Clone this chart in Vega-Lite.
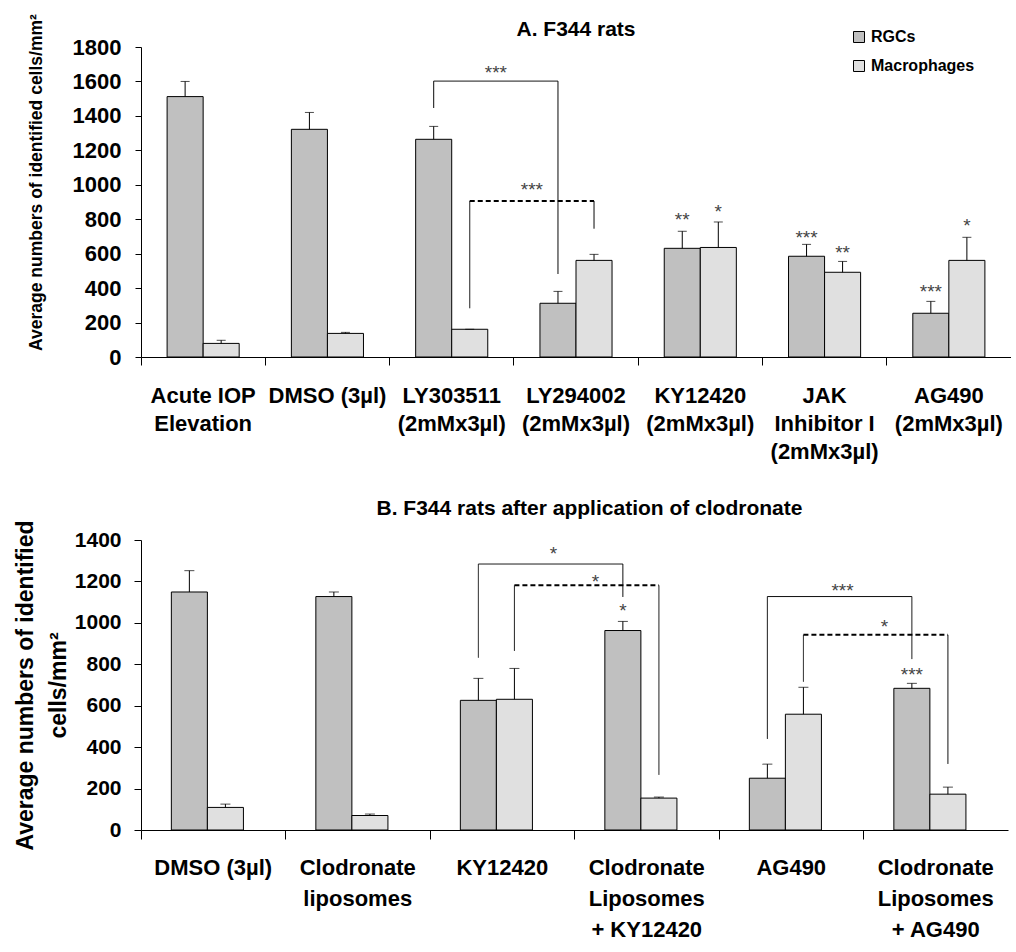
{
  "$schema": "https://vega.github.io/schema/vega-lite/v6.json",
  "background": "white",
  "padding": {"left": 14, "top": 13, "right": 0, "bottom": 0},
  "align": "none",
  "spacing": 35,
  "resolve": {"legend": {"fill": "independent"}},
  "config": {
    "font": "Liberation Sans",
    "view": {"stroke": null},
    "axis": {"domainColor": "black", "tickColor": "black", "labelColor": "black", "titleColor": "black", "grid": false, "labelFont": "Liberation Sans", "titleFont": "Liberation Sans", "labelOverlap": false},
    "axisY": {"labelOverlap": false},
    "axisQuantitative": {"labelOverlap": false},
    "axisYQuantitative": {"labelOverlap": false},
    "title": {"font": "Liberation Sans", "color": "black", "fontWeight": "bold"}
  },
  "datasets": {
    "barsA": [
      {"group": "Acute IOP|Elevation", "series": "RGCs", "value": 1512, "upper": 1600},
      {"group": "Acute IOP|Elevation", "series": "Macrophages", "value": 79, "upper": 97},
      {"group": "DMSO (3µl)", "series": "RGCs", "value": 1322, "upper": 1420},
      {"group": "DMSO (3µl)", "series": "Macrophages", "value": 137, "upper": 143},
      {"group": "LY303511|(2mMx3µl)", "series": "RGCs", "value": 1264, "upper": 1339},
      {"group": "LY303511|(2mMx3µl)", "series": "Macrophages", "value": 161, "upper": 161},
      {"group": "LY294002|(2mMx3µl)", "series": "RGCs", "value": 312, "upper": 381},
      {"group": "LY294002|(2mMx3µl)", "series": "Macrophages", "value": 561, "upper": 596},
      {"group": "KY12420|(2mMx3µl)", "series": "RGCs", "value": 631, "upper": 730},
      {"group": "KY12420|(2mMx3µl)", "series": "Macrophages", "value": 636, "upper": 784},
      {"group": "JAK|Inhibitor I|(2mMx3µl)", "series": "RGCs", "value": 585, "upper": 654},
      {"group": "JAK|Inhibitor I|(2mMx3µl)", "series": "Macrophages", "value": 492, "upper": 555},
      {"group": "AG490|(2mMx3µl)", "series": "RGCs", "value": 254, "upper": 323},
      {"group": "AG490|(2mMx3µl)", "series": "Macrophages", "value": 561, "upper": 695}
    ],
    "starsA": [
      {"group": "KY12420|(2mMx3µl)", "series": "RGCs", "label": "**", "y": 761},
      {"group": "KY12420|(2mMx3µl)", "series": "Macrophages", "label": "*", "y": 807},
      {"group": "JAK|Inhibitor I|(2mMx3µl)", "series": "RGCs", "label": "***", "y": 656},
      {"group": "JAK|Inhibitor I|(2mMx3µl)", "series": "Macrophages", "label": "**", "y": 569},
      {"group": "AG490|(2mMx3µl)", "series": "RGCs", "label": "***", "y": 343},
      {"group": "AG490|(2mMx3µl)", "series": "Macrophages", "label": "*", "y": 726}
    ],
    "bstarsA": [
      {"group": "LY294002|(2mMx3µl)", "series": "RGCs", "label": "***", "y": 1614},
      {"group": "LY294002|(2mMx3µl)", "series": "Macrophages", "label": "***", "y": 935}
    ],
    "bracketsA": [
      {"seg": "A1", "dash": "solid", "ord": 1, "group": "LY303511|(2mMx3µl)", "series": "RGCs", "y": 1446},
      {"seg": "A1", "dash": "solid", "ord": 2, "group": "LY303511|(2mMx3µl)", "series": "RGCs", "y": 1602},
      {"seg": "A1", "dash": "solid", "ord": 3, "group": "LY294002|(2mMx3µl)", "series": "RGCs", "y": 1602},
      {"seg": "A1", "dash": "solid", "ord": 4, "group": "LY294002|(2mMx3µl)", "series": "RGCs", "y": 482},
      {"seg": "A2a", "dash": "solid", "ord": 1, "group": "LY303511|(2mMx3µl)", "series": "Macrophages", "y": 283},
      {"seg": "A2a", "dash": "solid", "ord": 2, "group": "LY303511|(2mMx3µl)", "series": "Macrophages", "y": 906},
      {"seg": "A2b", "dash": "dashed", "ord": 1, "group": "LY303511|(2mMx3µl)", "series": "Macrophages", "y": 906},
      {"seg": "A2b", "dash": "dashed", "ord": 2, "group": "LY294002|(2mMx3µl)", "series": "Macrophages", "y": 906},
      {"seg": "A2c", "dash": "solid", "ord": 1, "group": "LY294002|(2mMx3µl)", "series": "Macrophages", "y": 906},
      {"seg": "A2c", "dash": "solid", "ord": 2, "group": "LY294002|(2mMx3µl)", "series": "Macrophages", "y": 745}
    ],
    "barsB": [
      {"group": "DMSO (3µl)", "series": "RGCs", "value": 1149, "upper": 1252},
      {"group": "DMSO (3µl)", "series": "Macrophages", "value": 109, "upper": 125},
      {"group": "Clodronate|liposomes", "series": "RGCs", "value": 1127, "upper": 1149},
      {"group": "Clodronate|liposomes", "series": "Macrophages", "value": 70, "upper": 77},
      {"group": "KY12420", "series": "RGCs", "value": 626, "upper": 732},
      {"group": "KY12420", "series": "Macrophages", "value": 631, "upper": 780},
      {"group": "Clodronate|Liposomes|+ KY12420", "series": "RGCs", "value": 963, "upper": 1007},
      {"group": "Clodronate|Liposomes|+ KY12420", "series": "Macrophages", "value": 154, "upper": 159},
      {"group": "AG490", "series": "RGCs", "value": 250, "upper": 318},
      {"group": "AG490", "series": "Macrophages", "value": 559, "upper": 689},
      {"group": "Clodronate|Liposomes|+ AG490", "series": "RGCs", "value": 684, "upper": 708},
      {"group": "Clodronate|Liposomes|+ AG490", "series": "Macrophages", "value": 173, "upper": 207}
    ],
    "starsB": [
      {"group": "Clodronate|Liposomes|+ KY12420", "series": "RGCs", "label": "*", "y": 1026},
      {"group": "Clodronate|Liposomes|+ AG490", "series": "RGCs", "label": "***", "y": 721}
    ],
    "bstarsB": [
      {"group": "Clodronate|Liposomes|+ KY12420", "series": "RGCs", "label": "*", "y": 1302},
      {"group": "Clodronate|Liposomes|+ KY12420", "series": "Macrophages", "label": "*", "y": 1166},
      {"group": "Clodronate|Liposomes|+ AG490", "series": "RGCs", "label": "***", "y": 1125},
      {"group": "Clodronate|Liposomes|+ AG490", "series": "Macrophages", "label": "*", "y": 949}
    ],
    "bracketsB": [
      {"seg": "B1", "dash": "solid", "ord": 1, "group": "KY12420", "series": "RGCs", "y": 832},
      {"seg": "B1", "dash": "solid", "ord": 2, "group": "KY12420", "series": "RGCs", "y": 1284},
      {"seg": "B1", "dash": "solid", "ord": 3, "group": "Clodronate|Liposomes|+ KY12420", "series": "RGCs", "y": 1284},
      {"seg": "B1", "dash": "solid", "ord": 4, "group": "Clodronate|Liposomes|+ KY12420", "series": "RGCs", "y": 1125},
      {"seg": "B2a", "dash": "solid", "ord": 1, "group": "KY12420", "series": "Macrophages", "y": 865},
      {"seg": "B2a", "dash": "solid", "ord": 2, "group": "KY12420", "series": "Macrophages", "y": 1181},
      {"seg": "B2b", "dash": "dashed", "ord": 1, "group": "KY12420", "series": "Macrophages", "y": 1181},
      {"seg": "B2b", "dash": "dashed", "ord": 2, "group": "Clodronate|Liposomes|+ KY12420", "series": "Macrophages", "y": 1181},
      {"seg": "B2c", "dash": "solid", "ord": 1, "group": "Clodronate|Liposomes|+ KY12420", "series": "Macrophages", "y": 1181},
      {"seg": "B2c", "dash": "solid", "ord": 2, "group": "Clodronate|Liposomes|+ KY12420", "series": "Macrophages", "y": 266},
      {"seg": "B3", "dash": "solid", "ord": 1, "group": "AG490", "series": "RGCs", "y": 440},
      {"seg": "B3", "dash": "solid", "ord": 2, "group": "AG490", "series": "RGCs", "y": 1127},
      {"seg": "B3", "dash": "solid", "ord": 3, "group": "Clodronate|Liposomes|+ AG490", "series": "RGCs", "y": 1127},
      {"seg": "B3", "dash": "solid", "ord": 4, "group": "Clodronate|Liposomes|+ AG490", "series": "RGCs", "y": 825},
      {"seg": "B4a", "dash": "solid", "ord": 1, "group": "AG490", "series": "Macrophages", "y": 716},
      {"seg": "B4a", "dash": "solid", "ord": 2, "group": "AG490", "series": "Macrophages", "y": 942},
      {"seg": "B4b", "dash": "dashed", "ord": 1, "group": "AG490", "series": "Macrophages", "y": 942},
      {"seg": "B4b", "dash": "dashed", "ord": 2, "group": "Clodronate|Liposomes|+ AG490", "series": "Macrophages", "y": 942},
      {"seg": "B4c", "dash": "solid", "ord": 1, "group": "Clodronate|Liposomes|+ AG490", "series": "Macrophages", "y": 942},
      {"seg": "B4c", "dash": "solid", "ord": 2, "group": "Clodronate|Liposomes|+ AG490", "series": "Macrophages", "y": 319}
    ]
  },
  "vconcat": [
    {
      "width": 870,
      "height": 310,
      "title": {"text": "A. F344 rats", "fontSize": 21, "offset": 7, "dy": 33, "frame": "group"},
      "encoding": {
        "x": {"field": "group", "type": "nominal",
          "scale": {"domain": ["Acute IOP|Elevation", "DMSO (3µl)", "LY303511|(2mMx3µl)", "LY294002|(2mMx3µl)", "KY12420|(2mMx3µl)", "JAK|Inhibitor I|(2mMx3µl)", "AG490|(2mMx3µl)"], "paddingInner": 0.42, "paddingOuter": 0.21},
          "axis": {"title": null, "labelExpr": "split(datum.value, '|')", "labelAngle": 0, "labelFontSize": 22, "labelFontWeight": "bold", "labelLineHeight": 28, "labelPadding": 20, "tickSize": 8, "bandPosition": -0.362, "labelOverlap": false, "labelLimit": 300}},
        "y": {"type": "quantitative", "scale": {"domain": [0, 1800], "nice": false},
          "axis": {"title": "Average numbers of identified cells/mm²", "values": [0, 200, 400, 600, 800, 1000, 1200, 1400, 1600, 1800], "format": "d", "labelOverlap": false, "labelFontSize": 22, "labelFontWeight": "bold", "tickSize": 6, "labelPadding": 14, "titleFontSize": 17.5, "titleFontWeight": "bold", "titlePadding": 27, "titleY": 135}}
      },
      "layer": [
        {
          "data": {"name": "barsA"},
          "mark": {"type": "bar", "stroke": "black", "strokeWidth": 1},
          "encoding": {
            "xOffset": {"field": "series", "type": "nominal", "scale": {"domain": ["RGCs", "Macrophages"]}},
            "y": {"field": "value", "type": "quantitative"},
            "fill": {"field": "series", "type": "nominal", "scale": {"domain": ["RGCs", "Macrophages"], "range": ["#c0c0c0", "#e0e0e0"]},
              "legend": {"title": null, "orient": "none", "legendX": 710, "legendY": -18, "symbolType": "square", "symbolSize": 121, "symbolStrokeColor": "black", "symbolStrokeWidth": 1, "labelFontSize": 16, "labelFontWeight": "bold", "labelColor": "black", "rowPadding": 13, "labelOffset": 4, "padding": 0}}
          }
        },
        {
          "data": {"name": "barsA"},
          "mark": {"type": "rule", "color": "black", "strokeWidth": 1},
          "encoding": {
            "xOffset": {"field": "series", "type": "nominal", "scale": {"domain": ["RGCs", "Macrophages"]}},
            "y": {"field": "value", "type": "quantitative"},
            "y2": {"field": "upper"}
          }
        },
        {
          "data": {"name": "barsA"},
          "mark": {"type": "tick", "orient": "horizontal", "color": "black", "size": 9, "thickness": 1},
          "encoding": {
            "xOffset": {"field": "series", "type": "nominal", "scale": {"domain": ["RGCs", "Macrophages"]}},
            "y": {"field": "upper", "type": "quantitative"}
          }
        },
        {
          "data": {"name": "starsA"},
          "mark": {"type": "text", "fontSize": 19, "color": "#444", "baseline": "alphabetic", "align": "center"},
          "encoding": {
            "xOffset": {"field": "series", "type": "nominal", "scale": {"domain": ["RGCs", "Macrophages"]}},
            "y": {"field": "y", "type": "quantitative"},
            "text": {"field": "label"}
          }
        },
        {
          "data": {"name": "bracketsA"},
          "mark": {"type": "line", "color": "black", "strokeCap": "butt"},
          "encoding": {
            "xOffset": {"field": "series", "type": "nominal", "scale": {"domain": ["RGCs", "Macrophages"]}},
            "y": {"field": "y", "type": "quantitative"},
            "detail": {"field": "seg"},
            "order": {"field": "ord", "type": "quantitative"},
            "strokeDash": {"field": "dash", "type": "nominal", "scale": {"domain": ["solid", "dashed"], "range": [[1, 0], [5, 3]]}, "legend": null},
            "strokeWidth": {"field": "dash", "type": "nominal", "scale": {"domain": ["solid", "dashed"], "range": [1, 2]}, "legend": null}
          }
        },
        {
          "data": {"name": "bstarsA"},
          "transform": [{"filter": "datum.series == 'RGCs'"}],
          "mark": {"type": "text", "fontSize": 19, "color": "#444", "baseline": "alphabetic", "align": "center"},
          "encoding": {
            "x": {"field": "group", "type": "nominal", "bandPosition": -0.612},
            "y": {"field": "y", "type": "quantitative"},
            "text": {"field": "label"}
          }
        },
        {
          "data": {"name": "bstarsA"},
          "transform": [{"filter": "datum.series == 'Macrophages'"}],
          "mark": {"type": "text", "fontSize": 19, "color": "#444", "baseline": "alphabetic", "align": "center"},
          "encoding": {
            "x": {"field": "group", "type": "nominal", "bandPosition": -0.112},
            "y": {"field": "y", "type": "quantitative"},
            "text": {"field": "label"}
          }
        }
      ]
    },
    {
      "width": 867,
      "height": 290,
      "title": {"text": "B. F344 rats after application of clodronate", "fontSize": 21, "offset": 1, "dx": 15, "frame": "group"},
      "encoding": {
        "x": {"field": "group", "type": "nominal",
          "scale": {"domain": ["DMSO (3µl)", "Clodronate|liposomes", "KY12420", "Clodronate|Liposomes|+ KY12420", "AG490", "Clodronate|Liposomes|+ AG490"], "paddingInner": 0.42, "paddingOuter": 0.21},
          "axis": {"title": null, "labelExpr": "split(datum.value, '|')", "labelAngle": 0, "labelFontSize": 22, "labelFontWeight": "bold", "labelLineHeight": 31, "labelPadding": 18, "tickSize": 9, "bandPosition": -0.362, "labelOverlap": false, "labelLimit": 300}},
        "y": {"type": "quantitative", "scale": {"domain": [0, 1400], "nice": false},
          "axis": {"title": ["Average numbers of identified", "cells/mm²"], "values": [0, 200, 400, 600, 800, 1000, 1200, 1400], "format": "d", "labelOverlap": false, "labelFontSize": 21, "labelFontWeight": "bold", "tickSize": 7, "labelPadding": 13, "titleFontSize": 23, "titleFontWeight": "bold", "titleLineHeight": 33, "titlePadding": 4}}
      },
      "layer": [
        {
          "data": {"name": "barsB"},
          "mark": {"type": "bar", "stroke": "black", "strokeWidth": 1},
          "encoding": {
            "xOffset": {"field": "series", "type": "nominal", "scale": {"domain": ["RGCs", "Macrophages"]}},
            "y": {"field": "value", "type": "quantitative"},
            "fill": {"field": "series", "type": "nominal", "scale": {"domain": ["RGCs", "Macrophages"], "range": ["#c0c0c0", "#e0e0e0"]}, "legend": null}
          }
        },
        {
          "data": {"name": "barsB"},
          "mark": {"type": "rule", "color": "black", "strokeWidth": 1},
          "encoding": {
            "xOffset": {"field": "series", "type": "nominal", "scale": {"domain": ["RGCs", "Macrophages"]}},
            "y": {"field": "value", "type": "quantitative"},
            "y2": {"field": "upper"}
          }
        },
        {
          "data": {"name": "barsB"},
          "mark": {"type": "tick", "orient": "horizontal", "color": "black", "size": 10, "thickness": 1},
          "encoding": {
            "xOffset": {"field": "series", "type": "nominal", "scale": {"domain": ["RGCs", "Macrophages"]}},
            "y": {"field": "upper", "type": "quantitative"}
          }
        },
        {
          "data": {"name": "starsB"},
          "mark": {"type": "text", "fontSize": 19, "color": "#444", "baseline": "alphabetic", "align": "center"},
          "encoding": {
            "xOffset": {"field": "series", "type": "nominal", "scale": {"domain": ["RGCs", "Macrophages"]}},
            "y": {"field": "y", "type": "quantitative"},
            "text": {"field": "label"}
          }
        },
        {
          "data": {"name": "bracketsB"},
          "mark": {"type": "line", "color": "black", "strokeCap": "butt"},
          "encoding": {
            "xOffset": {"field": "series", "type": "nominal", "scale": {"domain": ["RGCs", "Macrophages"]}},
            "y": {"field": "y", "type": "quantitative"},
            "detail": {"field": "seg"},
            "order": {"field": "ord", "type": "quantitative"},
            "strokeDash": {"field": "dash", "type": "nominal", "scale": {"domain": ["solid", "dashed"], "range": [[1, 0], [5, 3]]}, "legend": null},
            "strokeWidth": {"field": "dash", "type": "nominal", "scale": {"domain": ["solid", "dashed"], "range": [1, 2]}, "legend": null}
          }
        },
        {
          "data": {"name": "bstarsB"},
          "transform": [{"filter": "datum.series == 'RGCs'"}],
          "mark": {"type": "text", "fontSize": 19, "color": "#444", "baseline": "alphabetic", "align": "center"},
          "encoding": {
            "x": {"field": "group", "type": "nominal", "bandPosition": -0.612},
            "y": {"field": "y", "type": "quantitative"},
            "text": {"field": "label"}
          }
        },
        {
          "data": {"name": "bstarsB"},
          "transform": [{"filter": "datum.series == 'Macrophages'"}],
          "mark": {"type": "text", "fontSize": 19, "color": "#444", "baseline": "alphabetic", "align": "center"},
          "encoding": {
            "x": {"field": "group", "type": "nominal", "bandPosition": -0.112},
            "y": {"field": "y", "type": "quantitative"},
            "text": {"field": "label"}
          }
        }
      ]
    }
  ]
}
